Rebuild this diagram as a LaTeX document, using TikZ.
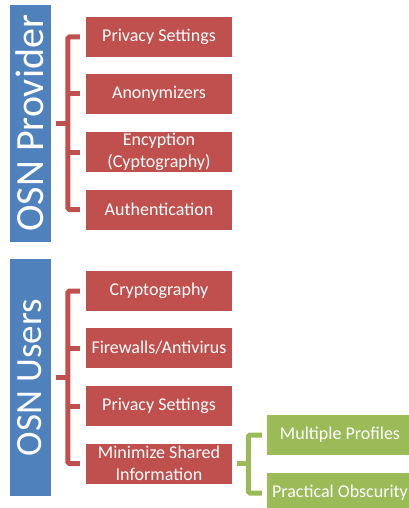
\documentclass[tikz,border=0pt]{standalone}
\usepackage{fontspec}
\setmainfont{Carlito}
\usetikzlibrary{calc}
\definecolor{ored}{HTML}{C0504D}
\definecolor{oblue}{HTML}{4F81BD}
\definecolor{ogreen}{HTML}{9BBB59}
\begin{document}
\begin{tikzpicture}[x=1pt,y=-1pt,
  redbox/.style={fill=ored, text=white, minimum width=146pt, minimum height=40pt, inner sep=0pt, align=center, font=\fontsize{18}{22}\selectfont},
  greenbox/.style={fill=ogreen, text=white, minimum width=146pt, minimum height=40pt, inner sep=0pt, align=center, font=\fontsize{18}{22}\selectfont},
  bluebar/.style={fill=oblue, text=white, minimum width=41pt, minimum height=237pt, inner sep=0pt},
  redbrk/.style={draw=ored, line width=5pt, rounded corners=1.5pt},
  greenbrk/.style={draw=ogreen, line width=5pt, rounded corners=1.5pt}]
\useasboundingbox (0,0) rectangle (409,508);
\clip (0,0) rectangle (409,508);
% Provider
\node[bluebar] (prov) at (30,123.3) {\rotatebox{90}{\fontsize{40}{44}\selectfont OSN Provider}};
\node[redbox] (p1) at (159,37) {Privacy Settings};
\node[redbox] (p2) at (159,94) {Anonymizers};
\node[redbox] (p3) at (159,152) {Encyption\\(Cyptography)};
\node[redbox] (p4) at (159,209.5) {Authentication};
\coordinate (ps) at ($(prov.east)+(5,0)$);
\coordinate (pv) at ($(p1.west)+(-18,0)$);
\draw[redbrk] ($(p1.west)+(-6,0)$) -- (pv) -- (pv |- p4.west) -- ($(p4.west)+(-6,0)$);
\draw[redbrk] ($(p2.west)+(-6,0)$) -- ++(-12.5,0);
\draw[redbrk] ($(p3.west)+(-6,0)$) -- ++(-12.5,0);
\draw[redbrk] (ps) -- (pv |- ps);
% Users
\node[bluebar] (user) at (30,377.5) {\rotatebox{90}{\fontsize{37}{42}\selectfont OSN Users}};
\node[redbox] (u1) at (159,291) {Cryptography};
\node[redbox] (u2) at (159,348) {Firewalls/Antivirus};
\node[redbox] (u3) at (159,406) {Privacy Settings};
\node[redbox] (u4) at (159,463.5) {Minimize Shared\\Information};
\coordinate (us) at ($(user.east)+(5,0)$);
\coordinate (uv) at ($(u1.west)+(-18,0)$);
\draw[redbrk] ($(u1.west)+(-6,0)$) -- (uv) -- (uv |- u4.west) -- ($(u4.west)+(-6,0)$);
\draw[redbrk] ($(u2.west)+(-6,0)$) -- ++(-12.5,0);
\draw[redbrk] ($(u3.west)+(-6,0)$) -- ++(-12.5,0);
\draw[redbrk] (us) -- (uv |- us);
% Minimize children
\node[greenbox] (g1) at (340,435) {Multiple Profiles};
\node[greenbox] (g2) at (340,493) {Practical Obscurity};
\coordinate (gs) at ($(u4.east)+(5,0)$);
\coordinate (gv) at ($(g1.west)+(-18.5,0)$);
\draw[greenbrk] ($(g1.west)+(-5,0)$) -- (gv) -- (gv |- g2.west) -- ($(g2.west)+(-5,0)$);
\draw[greenbrk] (gs) -- (gv |- gs);
\end{tikzpicture}
\end{document}
